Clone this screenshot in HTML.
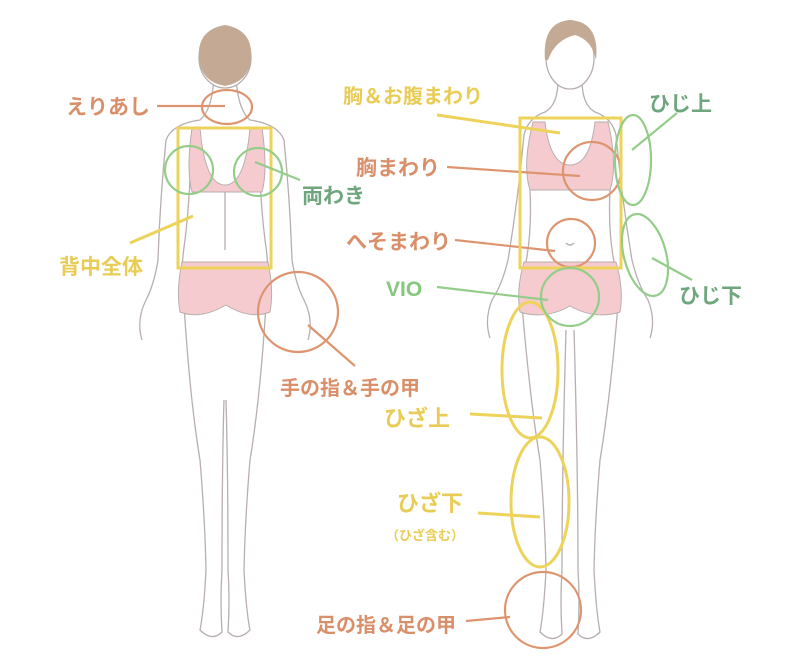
<!DOCTYPE html>
<html><head><meta charset="utf-8"><style>
html,body{margin:0;padding:0;background:#fff;}
svg{display:block}
text{font-family:"Liberation Sans","Noto Sans CJK JP",sans-serif;font-weight:bold;}
</style></head><body>
<svg width="800" height="663" viewBox="0 0 800 663" xmlns="http://www.w3.org/2000/svg">
<g fill="none" stroke="#b8aeae" stroke-width="1.3">
<path d="M214 78 Q212 110 200 120 Q172 124 166 140 Q160 200 158 260 Q154 285 146 300 Q136 320 142 340 M236 78 Q238 110 250 120 Q278 124 284 140 Q290 200 292 260 Q296 285 304 300 Q314 320 308 340"/>
<path d="M192 130 Q190 200 185 240 Q182 260 182 275 M258 130 Q260 200 265 240 Q268 260 268 275"/>
<path d="M225 190 L225 250"/>
<path d="M184 305 Q190 400 200 460 Q205 520 206 570 Q204 610 200 630 Q212 642 222 632 Q220 600 222 570 Q222 470 224 400 M266 305 Q260 400 250 460 Q245 520 244 570 Q246 610 250 630 Q238 642 228 632 Q230 600 228 570 Q228 470 226 400"/>
<path d="M558 80 Q558 105 545 112 Q528 118 524 135 Q518 200 508 260 Q502 285 492 300 Q484 320 490 338 M582 80 Q582 105 595 112 Q612 118 616 135 Q622 200 632 260 Q638 285 648 300 Q656 320 650 338"/>
<path d="M530 190 Q532 230 526 262 M610 190 Q608 230 614 262"/>
<path d="M522 305 Q530 400 540 460 Q545 520 546 570 Q544 610 540 632 Q552 644 562 634 Q560 600 562 570 Q562 470 566 330 M618 305 Q610 400 600 460 Q595 520 594 570 Q596 610 600 632 Q588 644 578 634 Q580 600 578 570 Q578 470 574 330"/>
<path d="M566 243 Q570 247 574 243" />
</g>
<ellipse cx="225" cy="58" rx="26" ry="30" fill="#fff" stroke="#b8aeae" stroke-width="1.3"/>
<path d="M199 60 Q196 30 225 25 Q254 30 251 60 Q248 82 225 86 Q202 82 199 60Z" fill="#c4aa94"/>
<ellipse cx="570" cy="58" rx="24" ry="31" fill="#fff" stroke="#b8aeae" stroke-width="1.3"/>
<path d="M545 60 Q542 22 570 20 Q600 22 596 60 Q592 40 575 35 Q555 40 548 60Z" fill="#c4aa94"/>
<path d="M192 128 L200 128 Q205 185 225 185 Q245 185 250 128 L262 128 Q268 170 262 192 L192 192 Q186 170 192 128Z" fill="#f6cbcf" stroke="#b8aeae" stroke-width="1"/>
<path d="M182 262 L268 262 Q274 290 270 312 Q250 320 226 305 Q200 320 180 312 Q176 290 182 262Z" fill="#f6cbcf" stroke="#b8aeae" stroke-width="1"/>
<path d="M533 122 L545 122 Q550 165 570 165 Q590 165 595 122 L608 122 Q618 165 610 190 L530 190 Q522 165 533 122Z" fill="#f6cbcf" stroke="#b8aeae" stroke-width="1"/>
<path d="M524 262 L616 262 Q624 290 620 312 Q595 320 570 306 Q545 320 520 312 Q516 290 524 262Z" fill="#f6cbcf" stroke="#b8aeae" stroke-width="1"/>

<g fill="none" stroke-width="2.2">
<g stroke="#dd9570">
<line x1="157" y1="106" x2="225" y2="106"/>
<ellipse cx="227" cy="107" rx="25" ry="17"/>
<circle cx="298" cy="312" r="40"/>
<line x1="308" y1="325" x2="355" y2="366"/>
<line x1="447" y1="167" x2="580" y2="176"/>
<circle cx="592" cy="171" r="29"/>
<line x1="455" y1="240" x2="555" y2="251"/>
<circle cx="571" cy="243" r="24"/>
<circle cx="543" cy="610" r="38"/>
<line x1="466" y1="621" x2="510" y2="617"/>
</g>
<g stroke="#edd35a" stroke-width="3">
<rect x="178" y="128" width="93" height="140"/>
<rect x="520" y="118" width="101" height="150"/>
<line x1="130" y1="243" x2="193" y2="216"/>
<line x1="437" y1="115" x2="560" y2="133"/>
<ellipse cx="530" cy="370" rx="28" ry="68"/>
<line x1="470" y1="414" x2="542" y2="418"/>
<ellipse cx="540" cy="502" rx="29" ry="65"/>
<line x1="478" y1="513" x2="540" y2="517"/>
</g>
<g stroke="#94cd8a">
<circle cx="189" cy="170" r="24"/>
<circle cx="258" cy="172" r="24"/>
<line x1="255" y1="162" x2="300" y2="180"/>
<line x1="437" y1="287" x2="548" y2="300"/>
<circle cx="570" cy="297" r="29"/>
<ellipse cx="633" cy="160" rx="18" ry="45"/>
<line x1="677" y1="113" x2="632" y2="150"/>
<ellipse cx="645" cy="255" rx="21" ry="42" transform="rotate(-15 645 255)"/>
<line x1="692" y1="280" x2="652" y2="258"/>
</g>
</g>
<g font-size="21">
<text x="66" y="114" fill="#d9906a">えりあし</text>
<text x="302" y="203" fill="#6fa67e">両わき</text>
<text x="59" y="274" fill="#e9cc55">背中全体</text>
<text x="280" y="395" fill="#d9906a" font-size="20">手の指＆手の甲</text>
<text x="343" y="103" fill="#e9cc55" font-size="20">胸＆お腹まわり</text>
<text x="356" y="175" fill="#d9906a">胸まわり</text>
<text x="346" y="249" fill="#d9906a">へそまわり</text>
<text x="386" y="296" fill="#85c77d">VIO</text>
<text x="649" y="111" fill="#6fa67e">ひじ上</text>
<text x="679" y="303" fill="#6fa67e">ひじ下</text>
<text x="384" y="426" fill="#e9cc55" font-size="22">ひざ上</text>
<text x="397" y="511" fill="#e9cc55" font-size="22">ひざ下</text>
<text x="386" y="540" fill="#e9cc55" font-size="13">（ひざ含む）</text>
<text x="316" y="632" fill="#d9906a" font-size="20">足の指＆足の甲</text>
</g>
</svg>
</body></html>
